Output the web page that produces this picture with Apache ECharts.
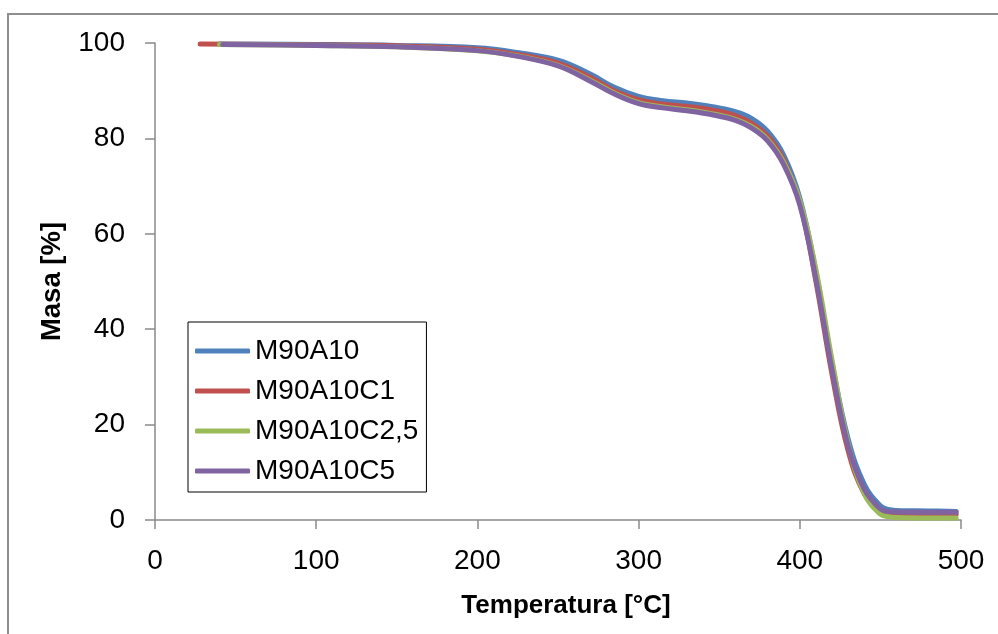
<!DOCTYPE html>
<html>
<head>
<meta charset="utf-8">
<script src="https://cdn.jsdelivr.net/npm/echarts@6/dist/echarts.min.js"></script>
<style>html,body{margin:0;padding:0;background:#fff}#c{width:998px;height:634px}</style>
</head>
<body>
<div id="c"></div>
<script>
var seriesNames = ['M90A10', 'M90A10C1', 'M90A10C2,5', 'M90A10C5'];
var xTicks = [0, 100, 200, 300, 400, 500];
var yTicks = [0, 20, 40, 60, 80, 100];

var tempM90A10   = [40, 100, 150, 200, 225, 250, 270, 285, 300, 315, 330, 345, 360, 370, 380, 390, 400, 410, 420, 430, 440, 450, 455, 460, 480, 497];
var massM90A10   = [99.8, 99.7, 99.5, 99.0, 98.0, 96.4, 93.5, 90.7, 88.8, 87.9, 87.4, 86.7, 85.6, 84.2, 81.5, 76.5, 67.5, 52.0, 33.0, 17.0, 7.5, 3.0, 2.2, 2.0, 1.9, 1.8];

var tempM90A10C1 = [28, 100, 150, 200, 225, 250, 270, 285, 300, 315, 330, 345, 360, 370, 380, 390, 400, 410, 420, 430, 440, 450, 455, 460, 480, 497];
var massM90A10C1 = [99.8, 99.6, 99.4, 98.7, 97.6, 95.8, 92.8, 90.0, 88.1, 87.2, 86.7, 86.0, 84.8, 83.2, 80.5, 75.5, 66.5, 50.0, 30.5, 14.5, 5.5, 1.8, 1.4, 1.3, 1.2, 1.2];

var tempM90A10C25 = [40, 100, 150, 200, 225, 250, 270, 285, 300, 315, 330, 345, 360, 370, 380, 390, 400, 410, 420, 430, 440, 450, 455, 460, 480, 497];
var massM90A10C25 = [99.7, 99.5, 99.2, 98.4, 97.3, 95.3, 92.2, 89.5, 87.5, 86.6, 86.0, 85.2, 84.0, 82.5, 79.8, 75.0, 67.0, 52.5, 33.5, 16.0, 5.5, 1.2, 0.7, 0.5, 0.4, 0.4];

var tempM90A10C5 = [42, 100, 150, 200, 225, 250, 270, 285, 300, 315, 330, 345, 360, 370, 380, 390, 400, 410, 420, 430, 440, 450, 455, 460, 480, 497];
var massM90A10C5 = [99.7, 99.5, 99.2, 98.4, 97.2, 95.2, 92.0, 89.3, 87.3, 86.4, 85.8, 85.0, 83.8, 82.2, 79.5, 74.5, 66.0, 50.5, 31.5, 15.5, 6.5, 2.3, 1.8, 1.7, 1.6, 1.6];

var colors = ['#4F81BD', '#C0504D', '#9BBB59', '#8064A2'];
var temps = [tempM90A10, tempM90A10C1, tempM90A10C25, tempM90A10C5];
var masses = [massM90A10, massM90A10C1, massM90A10C25, massM90A10C5];

function pairs(t, m) { return t.map(function (v, i) { return [v, m[i]]; }); }

var FONT = '"Liberation Sans", Arial, sans-serif';
var chart = echarts.init(document.getElementById('c'), null, {renderer: 'canvas'});
chart.setOption({
  animation: false,
  backgroundColor: '#ffffff',
  color: colors,
  textStyle: {fontFamily: FONT},
  graphic: [{
    type: 'rect', z: -10, silent: true,
    shape: {x: 8, y: 14, width: 1200, height: 800},
    style: {fill: 'none', stroke: '#8e8e8e', lineWidth: 2}
  }],
  grid: {left: 155, right: 37, top: 43, bottom: 114, containLabel: false},
  legend: {
    orient: 'vertical', left: 188, top: 322,
    padding: [15, 8, 7, 7],
    itemGap: 12, itemWidth: 55, itemHeight: 5,
    icon: 'roundRect',
    borderColor: '#000', borderWidth: 1, backgroundColor: '#fff',
    textStyle: {fontFamily: FONT, fontSize: 28, color: '#000', lineHeight: 28},
    data: seriesNames
  },
  xAxis: {
    type: 'value', min: xTicks[0], max: xTicks[xTicks.length - 1], interval: 100,
    name: 'Temperatura [°C]', nameLocation: 'middle', nameGap: 73,
    nameTextStyle: {fontFamily: FONT, fontSize: 26, fontWeight: 'bold', color: '#000', padding: [0, 0, 0, 16]},
    axisLine: {show: true, lineStyle: {color: '#8a8a8a', width: 1.5}},
    axisTick: {show: true, length: 9, inside: false, lineStyle: {color: '#8a8a8a', width: 1.5}},
    axisLabel: {fontFamily: FONT, fontSize: 28, color: '#000', margin: 27},
    splitLine: {show: false}
  },
  yAxis: {
    type: 'value', min: yTicks[0], max: yTicks[yTicks.length - 1], interval: 20,
    name: 'Masa [%]', nameLocation: 'middle', nameGap: 89, nameRotate: 90,
    nameTextStyle: {fontFamily: FONT, fontSize: 27.5, fontWeight: 'bold', color: '#000'},
    axisLine: {show: true, lineStyle: {color: '#8a8a8a', width: 1.5}},
    axisTick: {show: true, length: 10, inside: false, lineStyle: {color: '#8a8a8a', width: 1.5}},
    axisLabel: {fontFamily: FONT, fontSize: 28, color: '#000', margin: 30},
    splitLine: {show: false}
  },
  series: seriesNames.map(function (n, i) {
    return {
      name: n, type: 'line', data: pairs(temps[i], masses[i]),
      smooth: 0.4, showSymbol: false, symbol: 'none',
      lineStyle: {width: 5, color: colors[i], cap: 'round'},
      itemStyle: {color: colors[i]},
      z: 2 + i
    };
  })
});
</script>
</body>
</html>
